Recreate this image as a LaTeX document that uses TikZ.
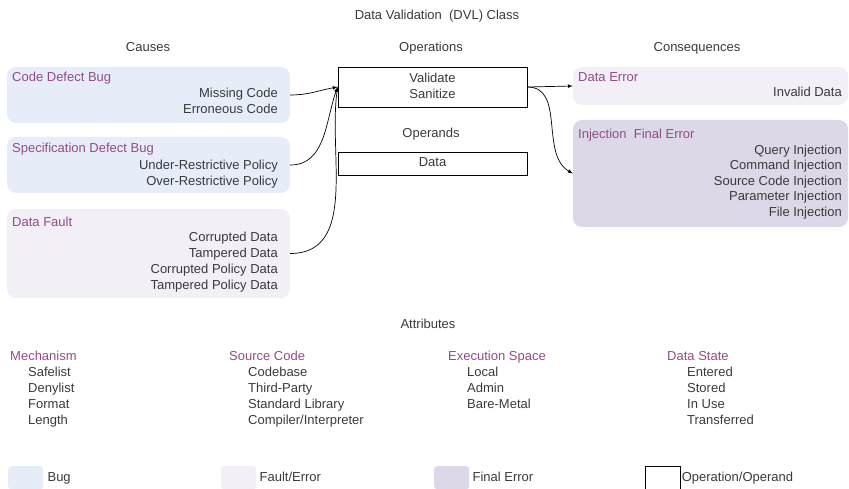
\documentclass[tikz,border=0pt]{standalone}
\usepackage{fontspec}
\setmainfont{Liberation Sans}
\usetikzlibrary{positioning}
\definecolor{bugfill}{HTML}{E6EDF9}
\definecolor{faultfill}{HTML}{F2EFF6}
\definecolor{finalfill}{HTML}{DCD8E7}
\definecolor{headcol}{HTML}{924C88}
\definecolor{txtcol}{HTML}{3A3A3A}
\begin{document}
\begin{tikzpicture}[x=1pt,y=-1pt,
  every node/.style={font=\fontsize{13}{15}\selectfont,text=txtcol,inner sep=0pt,text height=9.5pt,text depth=2.5pt},
  area/.style={rounded corners=9pt,minimum width=#1},
  opbox/.style={draw=black,line width=0.7pt,fill=white,minimum width=189},
  head/.style={text=headcol,anchor=west},
  item/.style={anchor=east},
  attr/.style={anchor=west},
  swatch/.style={minimum width=35,minimum height=23,anchor=north west,rounded corners=3pt},
  arr/.style={-latex,line width=0.7pt,black}]
  \useasboundingbox (0,0) rectangle (849,489);

  \node (title) at (437,16) {Data Validation\ \ (DVL) Class};
  \node (causes) at (148,48) {Causes};
  \node (operations) at (431,48) {Operations};
  \node (consequences) at (697,48) {Consequences};

  \node[area=283,minimum height=56,fill=bugfill] (codebug) at (148.5,95) {};
  \node[head] (codebugt) at (12,78) {Code Defect Bug};
  \foreach \t [count=\i] in {Missing Code,Erroneous Code}
    \node[item] (codebug\i) at (278,78+16*\i) {\t};

  \node[area=283,minimum height=56,fill=bugfill] (specbug) at (148.5,165) {};
  \node[head] (specbugt) at (12,149) {Specification Defect Bug};
  \foreach \t [count=\i] in {Under-Restrictive Policy,Over-Restrictive Policy}
    \node[item] (specbug\i) at (278,150+16*\i) {\t};

  \node[area=283,minimum height=89,fill=faultfill] (datafault) at (148.5,253.5) {};
  \node[head] (datafaultt) at (12,223) {Data Fault};
  \foreach \t [count=\i] in {Corrupted Data,Tampered Data,Corrupted Policy Data,Tampered Policy Data}
    \node[item] (datafault\i) at (278,222+16*\i) {\t};

  \node[opbox,minimum height=40] (ops) at (432.5,87) {};
  \node (validate) at (432.5,79) {Validate};
  \node (sanitize) at (432.5,95) {Sanitize};
  \node (operands) at (431,134) {Operands};
  \node[opbox,minimum height=23] (data) at (432.5,163.5) {Data};

  \node[area=275,minimum height=38,fill=faultfill] (dataerr) at (710.5,86) {};
  \node[head] (dataerrt) at (578,78) {Data Error};
  \node[item] (dataerr1) at (842,93) {Invalid Data};

  \node[area=275,minimum height=107,fill=finalfill] (inject) at (710.5,173.5) {};
  \node[head] (injectt) at (578,135) {Injection\ \ Final Error};
  \foreach \t [count=\i] in {Query Injection,Command Injection,Source Code Injection,Parameter Injection,File Injection}
    \node[item] (inject\i) at (842,135+15.6*\i) {\t};

  \draw[arr] (codebug.east) to[out=0,in=190] (ops.west);
  \draw[arr] (specbug.east) to[out=0,in=250] (ops.west);
  \draw[arr] (datafault.east) to[out=0,in=262] (ops.west);
  \draw[arr] (ops.east) -- (dataerr.west);
  \draw[arr] (ops.east) to[out=0,in=150] (inject.west);

  \node (attributes) at (428,325) {Attributes};
  \node[head] (mech) at (10,357) {Mechanism};
  \foreach \t [count=\i] in {Safelist,Denylist,Format,Length}
    \node[attr] (mech\i) at (28,357+16*\i) {\t};
  \node[head] (src) at (229,357) {Source Code};
  \foreach \t [count=\i] in {Codebase,Third-Party,Standard Library,Compiler/Interpreter}
    \node[attr] (src\i) at (248,357+16*\i) {\t};
  \node[head] (space) at (448,357) {Execution Space};
  \foreach \t [count=\i] in {Local,Admin,Bare-Metal}
    \node[attr] (space\i) at (467,357+16*\i) {\t};
  \node[head] (state) at (667,357) {Data State};
  \foreach \t [count=\i] in {Entered,Stored,In Use,Transferred}
    \node[attr] (state\i) at (687,357+16*\i) {\t};

  \node[swatch,fill=bugfill] (lgbug) at (8,466) {};
  \node[right=4pt of lgbug] (lgbugt) {Bug};
  \node[swatch,fill=faultfill] (lgfault) at (221,466) {};
  \node[right=3pt of lgfault] (lgfaultt) {Fault/Error};
  \node[swatch,fill=finalfill] (lgfinal) at (434,466) {};
  \node[right=3pt of lgfinal] (lgfinalt) {Final Error};
  \node[swatch,rounded corners=0pt,draw=black,line width=0.6pt] (lgop) at (645,466) {};
  \node[right=1pt of lgop] (lgopt) {Operation/Operand};
\end{tikzpicture}
\end{document}
